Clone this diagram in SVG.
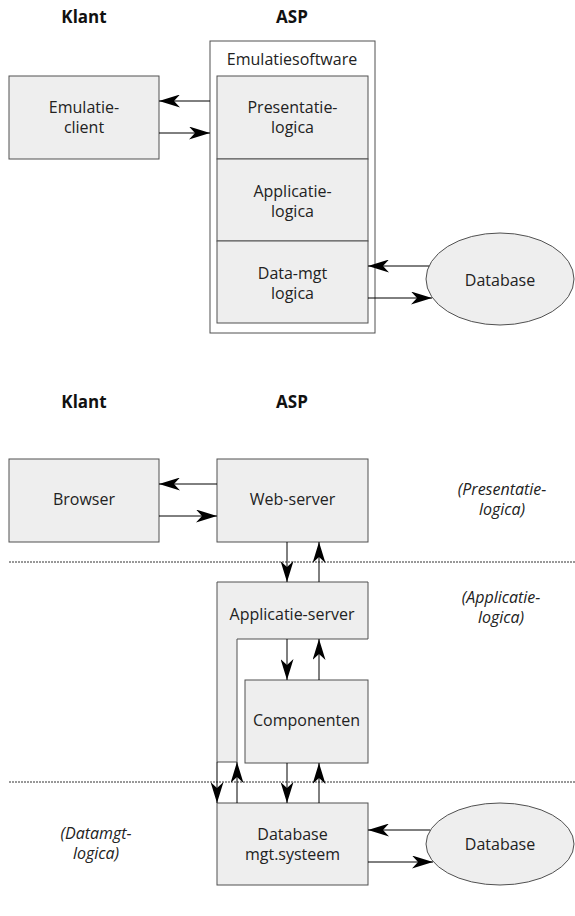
<svg xmlns="http://www.w3.org/2000/svg" width="575" height="916" viewBox="0 0 575 916">
<defs>
<marker id="ah" viewBox="0 0 21 13" refX="21" refY="6.5" markerWidth="21" markerHeight="13" markerUnits="userSpaceOnUse" orient="auto">
<path d="M21,6.5 L0,0 L6,6.5 L0,13 Z" fill="#000"/>
</marker>
<style>
.box{fill:#eeeeee;stroke:#505050;stroke-width:1}
.frame{fill:#ffffff;stroke:#505050;stroke-width:1}
.t{font-family:"Open Sans","Noto Sans",sans-serif;font-size:16px;fill:#222;text-anchor:middle}
.h{font-family:"Open Sans","Noto Sans",sans-serif;font-size:17px;font-weight:bold;fill:#111;text-anchor:middle}
.i{font-family:"Open Sans","Noto Sans",sans-serif;font-size:16px;font-style:italic;fill:#222;text-anchor:middle}
.c{stroke:#000;stroke-width:1;fill:none;marker-end:url(#ah)}
.dot{stroke:#333;stroke-width:1;stroke-dasharray:2,1;fill:none}
</style>
</defs>

<g id="labels">
<text class="h" x="84" y="23">Klant</text>
<text class="h" x="292" y="23">ASP</text>
<text class="h" x="84" y="408">Klant</text>
<text class="h" x="292" y="408">ASP</text>
<text class="i" x="502" y="495">(Presentatie-</text>
<text class="i" x="502" y="515">logica)</text>
<text class="i" x="501" y="603">(Applicatie-</text>
<text class="i" x="501" y="623">logica)</text>
<text class="i" x="96" y="839">(Datamgt-</text>
<text class="i" x="96" y="859">logica)</text>
</g>

<g id="separators">
<line class="dot" x1="9" y1="562" x2="575" y2="562"/>
<line class="dot" x1="9" y1="782" x2="575" y2="782"/>
</g>

<g id="emulatiesoftware">
<rect class="frame" x="210" y="41" width="165" height="292"/>
<text class="t" x="292" y="65">Emulatiesoftware</text>
</g>
<g id="presentatielogica">
<rect class="box" x="217" y="76" width="151" height="83"/>
<text class="t" x="292.5" y="113">Presentatie-</text>
<text class="t" x="292.5" y="133">logica</text>
</g>
<g id="applicatielogica">
<rect class="box" x="217" y="159" width="151" height="82"/>
<text class="t" x="292.5" y="197">Applicatie-</text>
<text class="t" x="292.5" y="217">logica</text>
</g>
<g id="datamgtlogica">
<rect class="box" x="217" y="241" width="151" height="82"/>
<text class="t" x="292.5" y="279">Data-mgt</text>
<text class="t" x="292.5" y="299">logica</text>
</g>
<g id="emulatieclient">
<rect class="box" x="9" y="76" width="150" height="83"/>
<text class="t" x="84" y="113">Emulatie-</text>
<text class="t" x="84" y="133">client</text>
</g>
<g id="database1">
<ellipse class="box" cx="500" cy="279" rx="74" ry="46"/>
<text class="t" x="500" y="286">Database</text>
</g>

<g id="browser">
<rect class="box" x="9" y="459" width="150" height="83"/>
<text class="t" x="84" y="505">Browser</text>
</g>
<g id="webserver">
<rect class="box" x="217" y="459" width="151" height="83"/>
<text class="t" x="292.5" y="505">Web-server</text>
</g>
<g id="applicatieserver">
<path class="box" d="M217,582 H368 V639 H237 V762 H217 Z"/>
<text class="t" x="292" y="620">Applicatie-server</text>
</g>
<g id="componenten">
<rect class="box" x="245" y="680" width="123" height="83"/>
<text class="t" x="306.5" y="726">Componenten</text>
</g>
<g id="dbms">
<rect class="box" x="217" y="803" width="151" height="82"/>
<text class="t" x="292.5" y="840">Database</text>
<text class="t" x="292.5" y="860">mgt.systeem</text>
</g>
<g id="database2">
<ellipse class="box" cx="500" cy="844" rx="74" ry="41"/>
<text class="t" x="500" y="850">Database</text>
</g>

<g id="connectors">
<line class="c" x1="210" y1="101" x2="159" y2="101"/>
<line class="c" x1="159" y1="133" x2="210" y2="133"/>
<line class="c" x1="429" y1="266" x2="368" y2="266"/>
<line class="c" x1="368" y1="298" x2="432" y2="298"/>
<line class="c" x1="217" y1="484" x2="159" y2="484"/>
<line class="c" x1="159" y1="516" x2="217" y2="516"/>
<line class="c" x1="287" y1="542" x2="287" y2="582"/>
<line class="c" x1="319" y1="582" x2="319" y2="542"/>
<line class="c" x1="287" y1="639" x2="287" y2="680"/>
<line class="c" x1="319" y1="680" x2="319" y2="639"/>
<line class="c" x1="287" y1="763" x2="287" y2="803"/>
<line class="c" x1="319" y1="803" x2="319" y2="763"/>
<line class="c" x1="217" y1="762" x2="217" y2="803"/>
<line class="c" x1="237" y1="803" x2="237" y2="762"/>
<line class="c" x1="430" y1="830" x2="368" y2="830"/>
<line class="c" x1="368" y1="862" x2="433" y2="862"/>
</g>
</svg>
